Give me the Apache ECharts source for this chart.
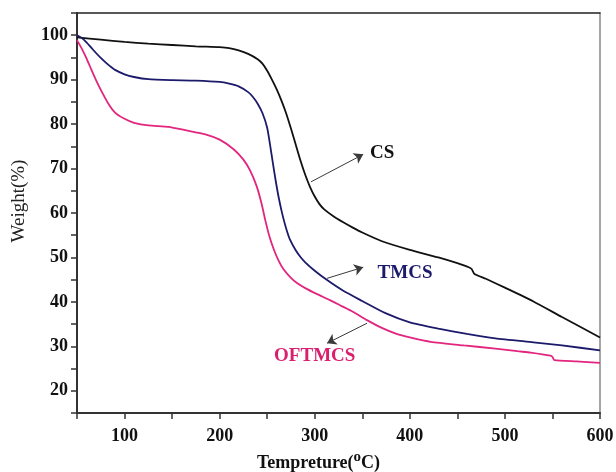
<!DOCTYPE html>
<html>
<head>
<meta charset="utf-8">
<script src="https://cdn.jsdelivr.net/npm/echarts@6/dist/echarts.min.js"></script>
<style>html,body{margin:0;padding:0;background:#fff;}#c{width:616px;height:472px;}</style>
</head>
<body>
<div id="c"></div>
<script>
// Temperatures (°C) and weights (%)
var csTemp   = [50, 75, 100, 125, 150, 175, 200, 210, 220, 230, 240, 245, 250, 255, 260, 265, 270, 275, 280, 285, 290, 295, 300, 305, 310, 320, 330, 340, 350, 370, 400, 430, 450, 462, 465, 468, 480, 500, 530, 560, 600];
var csWeight = [99.5, 99.0, 98.5, 98.1, 97.8, 97.5, 97.3, 97.1, 96.6, 95.8, 94.6, 93.6, 92.0, 90.0, 87.8, 85.3, 82.4, 79.0, 75.4, 71.8, 68.6, 65.9, 63.7, 62.0, 60.8, 59.2, 57.9, 56.7, 55.6, 53.7, 51.7, 50.0, 48.7, 47.8, 47.4, 46.3, 45.2, 43.2, 40.1, 36.6, 32.0];

var tmTemp   = [50, 55, 60, 65, 70, 75, 80, 85, 90, 100, 110, 125, 150, 175, 200, 210, 220, 230, 235, 240, 245, 250, 253, 256, 259, 262, 265, 268, 271, 274, 280, 285, 290, 300, 313, 330, 350, 375, 400, 430, 460, 490, 530, 560, 600];
var tmWeight = [100.0, 99.4, 98.4, 97.2, 96.0, 94.9, 93.9, 93.0, 92.2, 91.2, 90.6, 90.1, 89.9, 89.8, 89.5, 89.1, 88.5, 87.2, 86.1, 84.6, 82.5, 79.2, 75.4, 71.2, 67.2, 63.6, 60.6, 58.0, 55.8, 54.0, 51.6, 50.1, 48.9, 47.0, 44.9, 42.5, 40.2, 37.4, 35.4, 34.0, 32.8, 31.8, 30.9, 30.2, 29.1];

var ofTemp   = [50, 55, 60, 65, 70, 76, 83, 90, 100, 110, 125, 146, 165, 185, 200, 215, 225, 232, 239, 244, 248, 252, 257, 262, 267, 275, 281, 290, 302, 316, 327, 340, 355, 370, 386, 400, 422, 457, 490, 513, 527, 548, 550, 552, 575, 600];
var ofWeight = [98.9, 97.0, 94.8, 92.3, 89.9, 87.3, 84.6, 82.6, 81.2, 80.3, 79.7, 79.4, 78.6, 77.7, 76.5, 74.3, 72.0, 69.6, 66.0, 62.2, 58.4, 55.0, 51.8, 49.3, 47.4, 45.4, 44.3, 43.1, 41.8, 40.4, 39.2, 37.8, 35.9, 34.2, 32.8, 32.0, 31.0, 30.2, 29.5, 28.9, 28.6, 27.9, 27.6, 26.9, 26.6, 26.3];

var seriesNames = ['CS', 'TMCS', 'OFTMCS'];
var xTickLabels = [100, 200, 300, 400, 500, 600];
var yTickLabels = [20, 30, 40, 50, 60, 70, 80, 90, 100];

// annotation anchors in data space [T, W]
var labelPos = [[371, 73.5], [395, 46.4], [300, 27.7]];
var arrowFrom = [[296, 67.0], [313, 45.3], [355, 35.2]];
var arrowTo   = [[351, 73.2], [351, 47.8], [313, 30.7]];

function zip(a, b) { return a.map(function (v, i) { return [v, b[i]]; }); }

var colors = ['#111111', '#1c1a6a', '#e2257e'];
var textColors = ['#111111', '#1c1a6a', '#d9206f'];
var serif = '"Liberation Serif", "DejaVu Serif", serif';

var data = [zip(csTemp, csWeight), zip(tmTemp, tmWeight), zip(ofTemp, ofWeight)];

var series = data.map(function (d, i) {
  return {
    name: seriesNames[i],
    type: 'line',
    data: d,
    showSymbol: false,
    smooth: 0.2,
    lineStyle: { color: colors[i], width: 1.8 },
    silent: true,
    markPoint: {
      symbol: 'circle', symbolSize: 0,
      data: [{ coord: labelPos[i], label: { show: true, formatter: seriesNames[i], color: textColors[i], fontFamily: serif, fontWeight: 'bold', fontSize: 19, position: 'inside' } }]
    },
    markLine: {
      symbol: ['none', 'arrow'], symbolSize: 9,
      silent: true,
      label: { show: false },
      lineStyle: { color: '#3a3a3a', width: 1, type: 'solid' },
      data: [[{ coord: arrowFrom[i] }, { coord: arrowTo[i] }]]
    }
  };
});

var chart = echarts.init(document.getElementById('c'), null, { renderer: 'canvas' });
chart.setOption({
  animation: false,
  backgroundColor: '#ffffff',
  grid: { left: 77, right: 16, top: 13, bottom: 59, containLabel: false, outerBoundsMode: 'none' },
  xAxis: [{
    type: 'value', min: 50, max: 600, interval: 50,
    position: 'bottom',
    name: 'Tempreture({sup|o}C)',
    nameLocation: 'middle', nameGap: 32,
    nameTextStyle: {
      fontFamily: serif, fontWeight: 'bold', fontSize: 18, color: '#111', padding: [0, 40, 0, 0],
      rich: { sup: { fontFamily: serif, fontWeight: 'bold', fontSize: 15, color: '#111', verticalAlign: 'bottom', padding: [0, 0, 12, 0] } }
    },
    axisLine: { onZero: false, lineStyle: { color: '#333', width: 2 } },
    axisTick: { show: true, inside: false, length: 6, lineStyle: { color: '#333', width: 1.5 } },
    axisLabel: {
      margin: 14, fontFamily: serif, fontWeight: 'bold', fontSize: 18, color: '#111',
      formatter: function (v) { return xTickLabels.indexOf(v) >= 0 ? String(v) : ''; }
    },
    splitLine: { show: false }
  }, {
    type: 'value', min: 50, max: 600, position: 'top',
    axisLine: { show: true, onZero: false, lineStyle: { color: '#222', width: 1.5 } },
    axisTick: { show: false }, axisLabel: { show: false }, splitLine: { show: false }
  }],
  yAxis: [{
    type: 'value', min: 15, max: 105, interval: 5,
    position: 'left',
    name: 'Weight(%)',
    nameLocation: 'middle', nameGap: 48, nameRotate: 90,
    nameTextStyle: { fontFamily: serif, fontSize: 19, color: '#222', padding: [0, 0, 0, 24] },
    axisLine: { onZero: false, lineStyle: { color: '#333', width: 2 } },
    axisTick: { show: true, inside: false, length: 6, lineStyle: { color: '#333', width: 1.5 } },
    axisLabel: {
      margin: 9, fontFamily: serif, fontWeight: 'bold', fontSize: 18, color: '#111',
      formatter: function (v) { return yTickLabels.indexOf(v) >= 0 ? String(v) : ''; }
    },
    splitLine: { show: false }
  }, {
    type: 'value', min: 15, max: 105, position: 'right',
    axisLine: { show: true, onZero: false, lineStyle: { color: '#888', width: 1.5 } },
    axisTick: { show: false }, axisLabel: { show: false }, splitLine: { show: false }
  }],
  series: series
});
</script>
</body>
</html>
